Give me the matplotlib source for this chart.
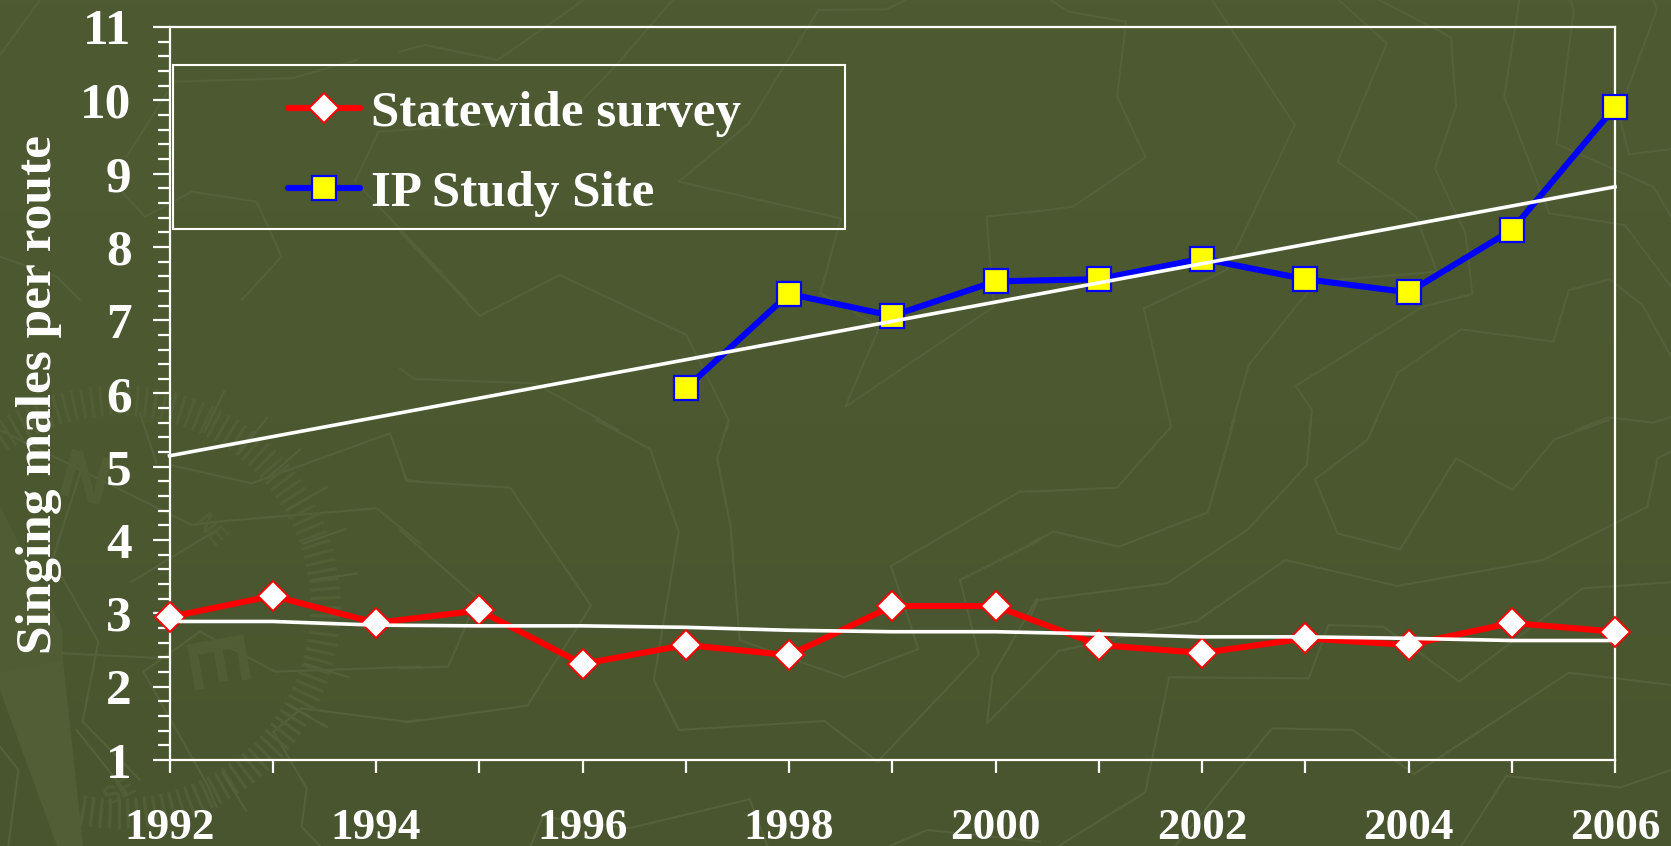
import numpy as np
import matplotlib
matplotlib.use('Agg')
import matplotlib.pyplot as plt
from matplotlib.patches import Rectangle, Polygon

W, H = 1671, 846

years = list(range(1992, 2007))
statewide = [2.95, 3.24, 2.87, 3.04, 2.31, 2.57, 2.43, 3.10, 3.10, 2.57, 2.46, 2.66, 2.57, 2.87, 2.75]
statewide_trend = [2.89, 2.89, 2.84, 2.83, 2.83, 2.81, 2.77, 2.75, 2.75, 2.72, 2.68, 2.68, 2.66, 2.63, 2.63]
ip_years = list(range(1997, 2007))
ip_site = [6.07, 7.36, 7.06, 7.53, 7.56, 7.84, 7.56, 7.38, 8.23, 9.91]
ip_trend_years = [1992, 2006]
ip_trend = [5.15, 8.82]
y_ticks = list(range(1, 12))
x_labels = [str(y) if y % 2 == 0 else '' for y in years]

# faint map contours of the slide background, traced from crops
# (x0, y0, x scale, y scale, lines)
contours = [
    (1030, 0, 2.446, 3, [
        [(50,0),(95,35),(235,65),(213,290),(283,472),(105,620),(0,637)],
        [(445,0),(648,375),(495,770),(480,810),(278,925),(345,1280),(340,1290)],
        [(755,0),(873,130),(752,485),(945,650),(995,815),(700,845),(535,1095),(490,1290)],
        [(855,0),(1030,112),(1042,320),(990,505),(1065,700),(1082,882),(960,920),(650,1158),(690,1230),(683,1290)],
        [(1197,0),(1160,290),(1270,640),(1455,675),(1568,860)],
        [(1322,0),(1330,30),(1288,432),(1525,560),(1568,650)],
        [(1525,0),(1533,30),(1440,340),(1465,463),(1568,447)],
        [(835,1290),(900,1118),(1055,988),(1280,1025),(1318,870),(1418,838),(1498,915),(1568,1070)],
        [(1335,1290),(1415,1252),(1525,1268),(1568,1250)],
    ]),
    (1030, 420, 2.446, 3, [
        [(345,20),(213,203),(0,215)],
        [(500,0),(435,277),(218,380),(58,335),(0,370)],
        [(688,0),(677,135),(533,328),(335,490),(20,540),(0,590)],
        [(848,0),(825,60),(697,178),(752,340),(905,388),(1042,115),(1180,210),(1283,58),(1415,0)],
        [(1568,95),(1535,115),(1510,260),(1255,420),(898,498),(625,420),(408,603),(70,693),(0,780)],
        [(1568,487),(1352,505),(1050,785),(865,620),(730,615),(682,775),(340,772),(282,1117),(70,1278)],
        [(1568,795),(1318,758),(940,1062),(790,930),(592,925),(355,1278)],
        [(1568,1050),(1445,1102),(1165,1068),(1055,1278)],
    ]),
    (400, 420, 2.45, 3, [
        [(480,0),(613,87),(683,335),(622,780),(683,930),(1040,903),(1170,1025),(1418,705),(1372,480),(1568,360)],
        [(805,0),(777,115),(810,320),(832,660),(1088,772),(1270,687),(1203,438),(1518,215),(1568,213)],
        [(0,120),(15,183),(270,203),(468,557),(312,857),(15,907),(0,903)],
        [(0,330),(190,535),(118,740),(0,745)],
        [(1568,540),(1560,537),(1452,765),(1438,910),(1568,750)],
        [(320,1278),(350,1190),(560,1225),(857,1138),(900,1278)],
        [(1200,1278),(1292,1230),(1568,1265)],
    ]),
    (400, 0, 2.45, 3, [
        [(450,0),(240,180),(60,135),(0,155)],
        [(668,0),(530,195),(440,310)],
        [(1240,0),(1190,28),(1025,30),(855,370),(683,545),(1080,655),(1030,880),(1175,980),(1090,1222),(1455,920),(1437,650),(1568,632)],
        [(0,695),(195,948),(392,825),(702,1005),(805,1260),(800,1290)],
        [(0,1105),(35,1137),(330,1150),(535,1290)],
    ]),
    (0, 380, 3, 3, [
        [(510,255),(755,310),(1170,160),(1220,300),(1260,305)],
        [(0,150),(575,435),(650,425),(1130,385),(1260,490)],
        [(395,605),(650,450)],
        [(430,875),(600,755),(825,875),(1260,860)],
        [(190,820),(500,835)],
        [(185,590),(295,785),(248,1025),(420,1200)],
        [(430,875),(620,1210),(650,1280)],
        [(820,1055),(905,985),(1220,1025),(1260,1020)],
        [(820,1055),(920,1225),(905,1340),(960,1398)],
        [(0,1100),(55,1170),(25,1398)],
        [(230,1050),(380,1240)],
        [(420,100),(470,250)],
        [(250,250),(160,530)],
    ]),
    (0, 0, 3, 3, [
        [(0,165),(120,0)],
        [(0,770),(170,830),(240,900)],
        [(360,570),(435,650),(575,575),(770,605),(845,770),(725,900)],
        [(380,470),(500,280)],
        [(520,245),(875,235),(1070,180)],
        [(1065,545),(1135,395),(1500,370)],
        [(1090,570),(1400,900)],
    ]),
]
ring_long = [-64, -52, -41, -30, -19, -8, 17, 30, 58]

bg_top = (78, 91, 50)
bg_bottom = (73, 85, 46)
line_col = '#55613a'
lighter = '#525f36'
glow = '#505d34'

plt.rcParams['font.family'] = ['Liberation Serif', 'DejaVu Serif']
plt.rcParams['font.weight'] = 'bold'

fig = plt.figure(figsize=(W / 100, H / 100), dpi=100)

# background
bg = fig.add_axes([0, 0, 1, 1], zorder=0)
grad = np.linspace(0, 1, 200)[:, None, None]
img = (np.array(bg_top) * (1 - grad) + np.array(bg_bottom) * grad) / 255
bg.imshow(img, extent=[0, W, H, 0], aspect='auto')

# compass needle
bg.add_patch(Polygon([(0, 505), (63, 630), (63, 670), (0, 673)], fc=glow, ec='none'))
bg.add_patch(Polygon([(0, 673), (63, 660), (83, 846), (57, 846), (0, 690)], fc=lighter, ec='none'))

for x0, y0, sx, sy, lines in contours:
    for pts in lines:
        pts = np.array(pts, dtype=float)
        bg.plot(x0 + pts[:, 0] / sx, y0 + pts[:, 1] / sy, color=line_col, lw=1.5, solid_joinstyle='miter')

# compass ring
cx, cy = 119, 607
for ang in np.arange(-125, 102, 2.5):
    a = np.radians(ang)
    bg.plot([cx + 193 * np.cos(a), cx + 220 * np.cos(a)],
            [cy + 193 * np.sin(a), cy + 220 * np.sin(a)], color=lighter, lw=2.3)
for ang in ring_long:
    a = np.radians(ang)
    bg.plot([cx + 195 * np.cos(a), cx + 240 * np.cos(a)],
            [cy + 195 * np.sin(a), cy + 240 * np.sin(a)], color=line_col, lw=1.6)

sans = 'Liberation Sans'
bg.text(83, 483, 'N', fontsize=50, color=lighter, rotation=-15, fontweight='bold', ha='center', va='center', family=sans)
bg.text(210, 531, 'NE', fontsize=18, color=lighter, rotation=-50, fontweight='bold', ha='center', va='center', family=sans)
bg.text(207, 667, 'E', fontsize=60, color=lighter, rotation=-80, fontweight='bold', ha='center', va='center', family=sans)
bg.text(120, 792, 'SE', fontsize=18, color=lighter, rotation=28, fontweight='bold', ha='center', va='center', family=sans)

bg.set_xlim(0, W)
bg.set_ylim(H, 0)
bg.axis('off')

# main chart
left, right, top, bottom = 169.5, 1615, 27, 760
ax = fig.add_axes([left / W, 1 - bottom / H, (right - left) / W, (bottom - top) / H], zorder=1)
ax.patch.set_alpha(0)

ax.plot(years, statewide, color='#ff0000', lw=4.4, marker='D', ms=15.5, mfc='white', mec='#ff0000',
        mew=1.4, clip_on=False, zorder=3, solid_capstyle='round', label='Statewide survey')
ax.plot(ip_years, ip_site, color='#0000ff', lw=4.4, marker='s', ms=17.5, mfc='#ffff00', mec='#0000ff',
        mew=1.6, clip_on=False, zorder=3, solid_capstyle='round', label='IP Study Site')
ax.plot(years, statewide_trend, color='white', lw=2.6, clip_on=False, zorder=5)
ax.plot(ip_trend_years, ip_trend, color='white', lw=2.6, clip_on=False, zorder=5)

ax.set_xlim(1992, 2006)
ax.set_ylim(1, 11)
ax.set_xticks(years)
ax.set_xticklabels(x_labels)
ax.set_yticks(y_ticks)
ax.set_yticks(np.arange(1, 11.01, 0.2), minor=True)

for s in ax.spines.values():
    s.set_color('white')
    s.set_linewidth(1.6)
ax.tick_params(axis='y', which='major', length=12.2, width=1.6, color='white', labelcolor='white',
               labelsize=37, pad=15)
ax.tick_params(axis='y', which='minor', length=8.6, width=1.6, color='white')
ax.tick_params(axis='x', which='major', length=9.7, width=1.6, color='white', labelcolor='white',
               labelsize=32.5, pad=25)

fig.text(39 / W, 1 - 394 / H, 'Singing males per route', rotation=90, color='white', fontsize=37,
         fontweight='bold', ha='center', va='center')

# legend
fig.add_artist(Rectangle((173 / W, 1 - 229 / H), 672 / W, 163.5 / H, transform=fig.transFigure,
                         fc='none', ec='white', lw=1.5))
leg = ax.legend(loc='upper left', bbox_to_anchor=(288 / W, 1 - 90 / H), bbox_transform=fig.transFigure,
                frameon=False, fontsize=36.7, labelcolor='white', handlelength=1.41, handletextpad=0.21,
                labelspacing=0.66, borderpad=0, borderaxespad=0)

fig.savefig('out.png', dpi=100)
